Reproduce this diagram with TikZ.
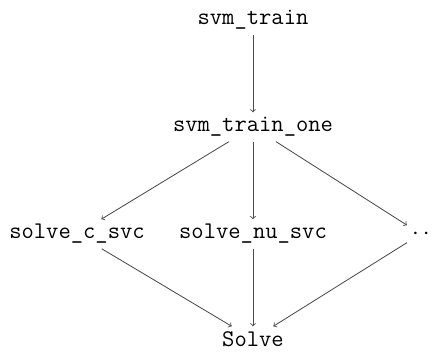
\documentclass[tikz,border=0pt]{standalone}
\usepackage{tikz}
\usetikzlibrary{arrows}

\begin{document}
\begin{tikzpicture}[font=\ttfamily\fontsize{17}{20}\selectfont, >=to, semithick,
	call/.style={->, black!70}]
	\useasboundingbox (0, 0) rectangle (10.8, 8.8);
	% Nodes:
	\node (train) at (6.325, 8.3){svm\_train};
	\node (trainone) at (6.325, 5.625){svm\_train\_one};
	\node (csvc) at (1.925, 2.95){solve\_c\_svc};
	\node (nusvc) at (6.325, 2.95){solve\_nu\_svc};
	\node (more) at (10.52, 2.95){$\mathinner{\cdotp\cdotp}$};
	\node (solve) at (6.325, 0.325){Solve};
	% Arrows:
	\draw[call] (train) -- (trainone);
	\draw[call] (trainone) -- (csvc);
	\draw[call] (trainone) -- (nusvc);
	\draw[call] (trainone) -- (more);
	\draw[call] (csvc) -- (solve);
	\draw[call] (nusvc) -- (solve);
	\draw[call] (more) -- (solve);
\end{tikzpicture}
\end{document}
